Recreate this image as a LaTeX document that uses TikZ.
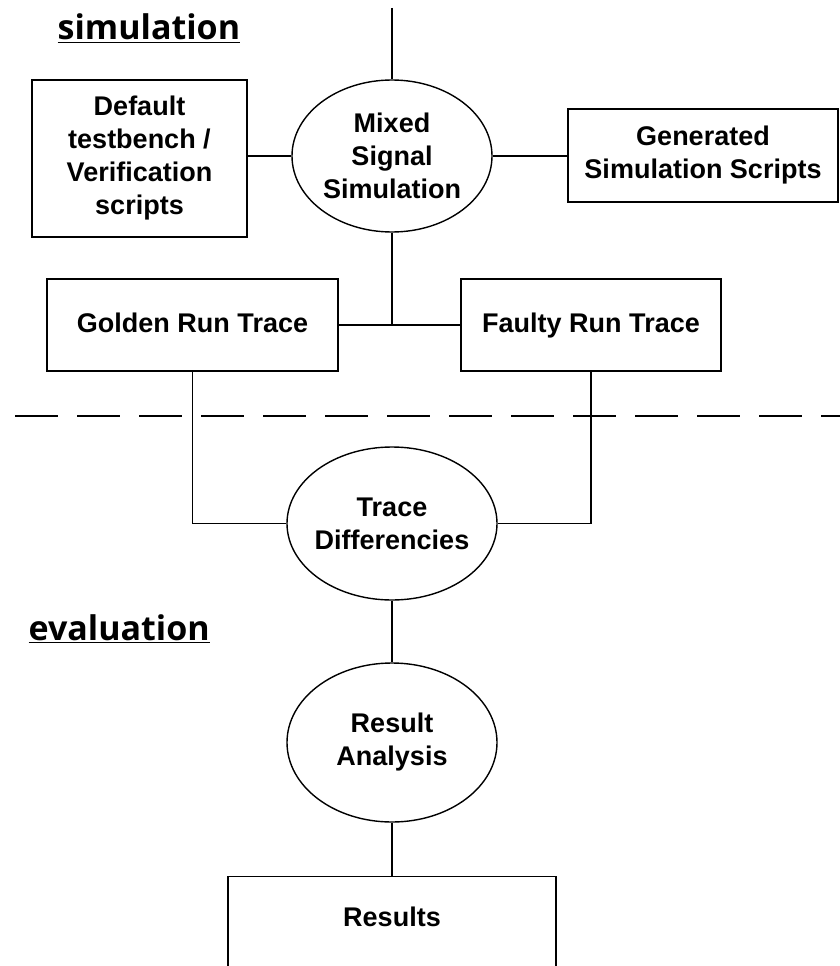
\documentclass[tikz,border=0pt]{standalone}
\usepackage{fontspec}
\setmainfont{Liberation Sans}
\newfontfamily\headfont{Open Sans}
\usetikzlibrary{shapes.geometric}

\begin{document}
\begin{tikzpicture}[x=1pt,y=-1pt,line width=1.4pt]
\tikzset{block/.style={draw, rectangle, align=center, inner sep=0pt,
font=\bfseries\fontsize{27}{33}\selectfont},
process/.style={draw, ellipse, align=center, inner sep=0pt,
font=\bfseries\fontsize{27}{33}\selectfont},
trace/.style={block, minimum height=92pt, text height=19pt, text depth=5pt},
phase/.style={anchor=base west, inner sep=0pt,
font=\headfont\bfseries\fontsize{34}{40}\selectfont},
}
\useasboundingbox (0,0) rectangle (840,966);

\node[phase] (simlabel) at (57,40) {\underline{simulation}};
\node[phase] (evallabel) at (28,640) {\underline{evaluation}};

\node[process, minimum width=200pt, minimum height=152pt] (mixed) at (392,156) {Mixed\\Signal\\Simulation};
\node[block, minimum width=215pt, minimum height=157pt] (testbench) at (139.5,158.5) {Default\\testbench /\\Verification\\scripts};
\node[block, minimum width=270pt, minimum height=93pt] (genscripts) at (703,155.5) {Generated\\Simulation Scripts};
\node[trace, minimum width=291pt] (golden) at (192.5,325) {Golden Run Trace};
\node[trace, minimum width=260pt] (faulty) at (591,325) {Faulty Run Trace};
\node[process, inner xsep=-5pt, minimum width=210pt, minimum height=153pt] (diff) at (392,523.5) {Trace\\Differencies};
\node[process, minimum width=210pt, minimum height=159pt] (analysis) at (392,742.5) {Result\\Analysis};
\node[block, anchor=north, minimum width=328pt, text height=50pt, text depth=130pt] (results) at (392,876) {Results};

\coordinate (feed) at (392,8);
\coordinate (sepL) at (15,416);
\coordinate (sepR) at (840,416);
\draw[line width=2pt, dash pattern=on 43pt off 19pt] (sepL) -- (sepR);

\draw (feed) -- (mixed.north);
\draw (testbench.east |- mixed.west) -- (mixed.west);
\draw (mixed.east) -- (mixed.east -| genscripts.west);
\draw (golden.east) -- (faulty.west);
\draw (mixed.south) -- (mixed.south |- golden.east);
\draw (golden.south) |- (diff.west);
\draw (faulty.south) |- (diff.east);
\draw (diff.south) -- (analysis.north);
\draw (analysis.south) -- (results.north);
\end{tikzpicture}
\end{document}
